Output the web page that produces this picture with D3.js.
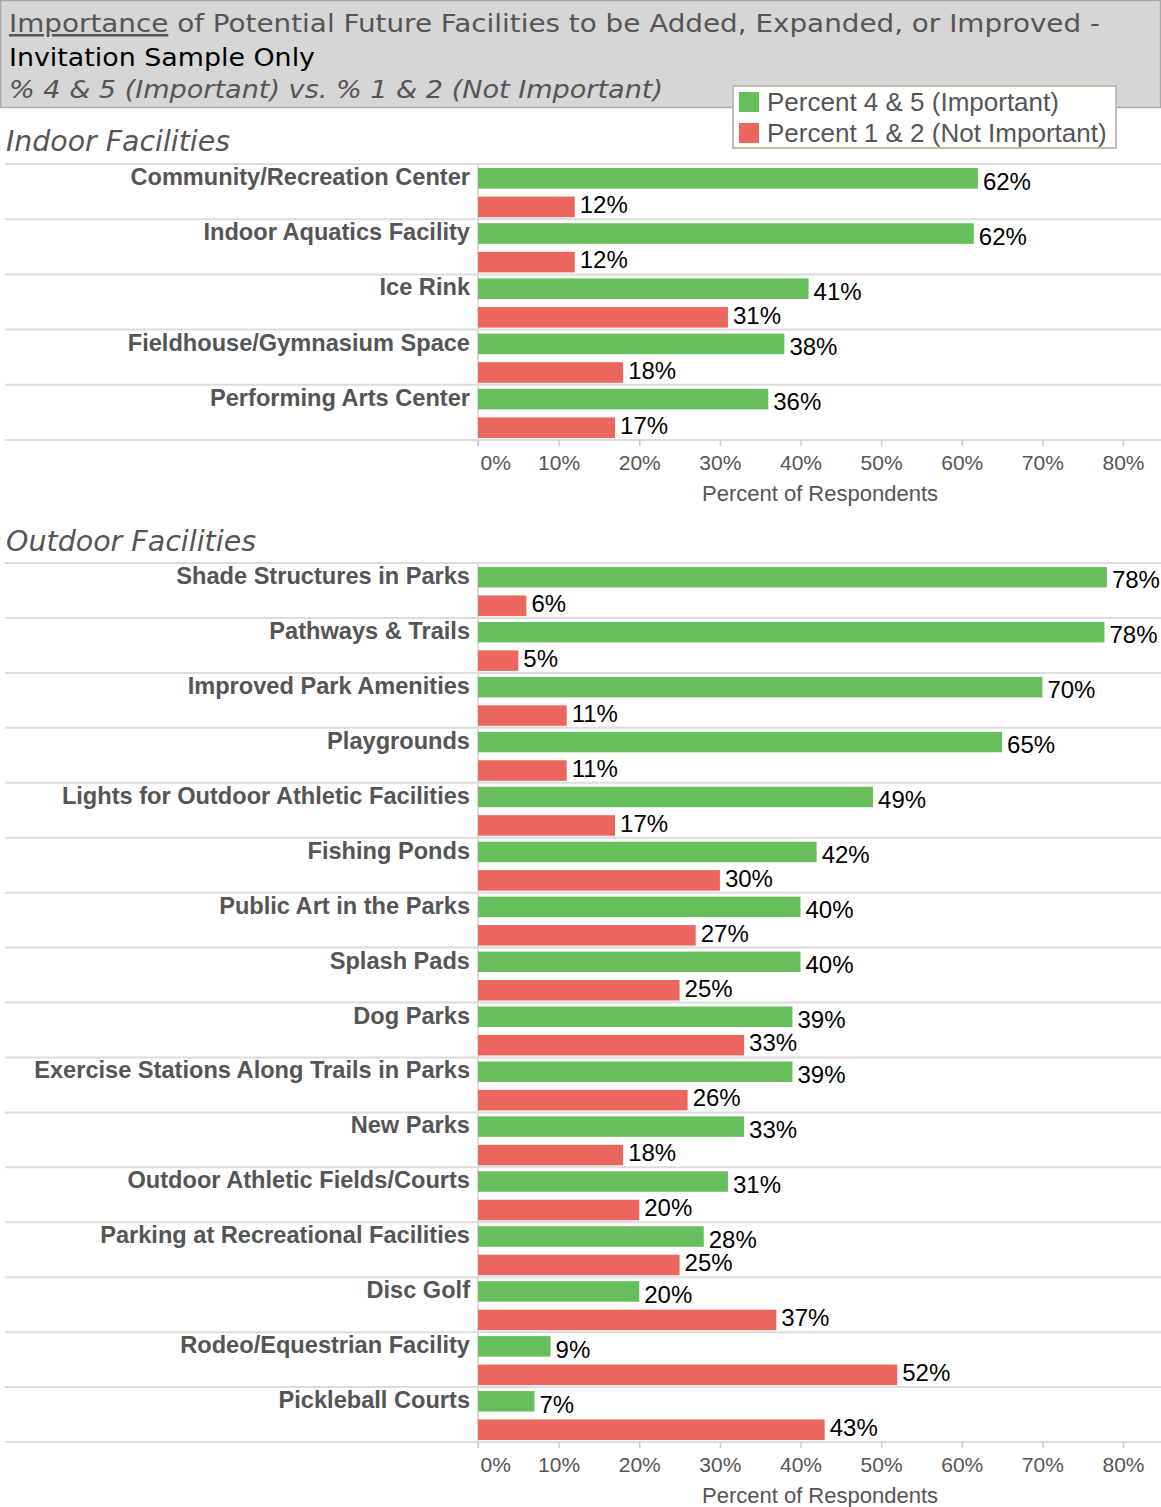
<!DOCTYPE html>
<html>
<head>
<meta charset="utf-8">
<script src="https://cdn.jsdelivr.net/npm/d3@7"></script>
<style>
  body { margin: 0; background: #fff; }
  svg { display: block; }
</style>
</head>
<body>
<div id="chart"></div>
<script>
// ---- data ----
var seriesNames = ["Percent 4 & 5 (Important)", "Percent 1 & 2 (Not Important)"];

var indoorNames = [
    "Community/Recreation Center",
    "Indoor Aquatics Facility",
    "Ice Rink",
    "Fieldhouse/Gymnasium Space",
    "Performing Arts Center"
];
var indoorImportant    = [62, 61.5, 41, 38, 36];
var indoorNotImportant = [12, 12, 31, 18, 17];

var outdoorNames = [
    "Shade Structures in Parks",
    "Pathways & Trails",
    "Improved Park Amenities",
    "Playgrounds",
    "Lights for Outdoor Athletic Facilities",
    "Fishing Ponds",
    "Public Art in the Parks",
    "Splash Pads",
    "Dog Parks",
    "Exercise Stations Along Trails in Parks",
    "New Parks",
    "Outdoor Athletic Fields/Courts",
    "Parking at Recreational Facilities",
    "Disc Golf",
    "Rodeo/Equestrian Facility",
    "Pickleball Courts"
];
var outdoorImportant    = [78, 77.7, 70, 65, 49, 42, 40, 40, 39, 39, 33, 31, 28, 20, 9, 7];
var outdoorNotImportant = [6, 5, 11, 11, 17, 30, 27, 25, 33, 26, 18, 20, 25, 37, 52, 43];

var tickValues = [0, 10, 20, 30, 40, 50, 60, 70, 80];

// ---- layout ----
var canWidth = 1161;
var canHeight = 1507;
var colors = ["#66be5c", "#eb665c"];
var gray = "#555555";
var lineColor = "#dcdcdc";
var labelRight = 470;
var titleFont = "'DejaVu Sans', sans-serif";

var x = d3.scaleLinear()
    .domain([0, 80])
    .range([478, 1123]);

var svg = d3.select("#chart")
    .append("svg")
    .attr("width", canWidth)
    .attr("height", canHeight)
    .style("font-family", "'Liberation Sans', Arial, sans-serif");

// squeeze a text element to a given width
function fit(sel, w) {
    sel.attr("textLength", w).attr("lengthAdjust", "spacingAndGlyphs");
}

// title box
svg.append("rect")
    .attr("x", 0.5)
    .attr("y", 0.5)
    .attr("width", canWidth - 1)
    .attr("height", 107)
    .attr("fill", "#d6d6d6")
    .attr("stroke", "#a8a8a8")
    .attr("stroke-width", 1.5);

var t1 = svg.append("text")
    .attr("x", 9)
    .attr("y", 32)
    .attr("font-family", titleFont)
    .attr("font-size", 25)
    .attr("fill", gray);
t1.append("tspan")
    .attr("text-decoration", "underline")
    .text("Importance");
t1.append("tspan")
    .text(" of Potential Future Facilities to be Added, Expanded, or Improved -");
fit(t1, 1091);

var t2 = svg.append("text")
    .attr("x", 9)
    .attr("y", 66)
    .attr("font-family", titleFont)
    .attr("font-size", 25)
    .attr("fill", "#000")
    .text("Invitation Sample Only");
fit(t2, 306);

var t3 = svg.append("text")
    .attr("x", 9)
    .attr("y", 98)
    .attr("font-family", titleFont)
    .attr("font-size", 25)
    .attr("font-style", "italic")
    .attr("fill", gray)
    .text("% 4 & 5 (Important) vs. % 1 & 2 (Not Important)");
fit(t3, 654);

// legend
var legend = svg.append("g")
    .attr("transform", "translate(733, 86)");

legend.append("rect")
    .attr("width", 383)
    .attr("height", 62)
    .attr("fill", "#fff")
    .attr("stroke", "#bfbdb0")
    .attr("stroke-width", 2);

var legendItem = legend.selectAll(".legend-item")
    .data(seriesNames)
    .enter()
    .append("g")
    .attr("class", "legend-item")
    .attr("transform", function (d, i) {
        return "translate(6, " + (6 + i * 31) + ")";
    });

legendItem.append("rect")
    .attr("width", 20)
    .attr("height", 20)
    .attr("fill", function (d, i) { return colors[i]; });

legendItem.append("text")
    .attr("x", 28)
    .attr("y", 19)
    .attr("font-size", 26)
    .attr("fill", gray)
    .text(function (d) { return d; });

// one panel of paired bars
function drawPanel(names, important, notImportant, header, headerY, headerW, top, bottom) {
    var rows = names.map(function (n, i) {
        return { name: n, values: [important[i], notImportant[i]] };
    });

    var y = d3.scaleBand()
        .domain(names)
        .range([top, bottom])
        .padding(0);

    var ySub = d3.scaleBand()
        .domain([0, 1])
        .range([4, y.bandwidth() - 2])
        .paddingInner(0.28);

    var g = svg.append("g");

    var h = g.append("text")
        .attr("x", 6)
        .attr("y", headerY)
        .attr("font-family", titleFont)
        .attr("font-size", 28)
        .attr("font-style", "italic")
        .attr("fill", gray)
        .text(header);
    fit(h, headerW);

    // row separators
    g.selectAll(".sep")
        .data(d3.range(names.length + 1))
        .enter()
        .append("line")
        .attr("x1", 5)
        .attr("x2", canWidth)
        .attr("y1", function (d) { return top + d * y.step(); })
        .attr("y2", function (d) { return top + d * y.step(); })
        .attr("stroke", lineColor)
        .attr("stroke-width", 2);

    // zero line
    g.append("line")
        .attr("x1", x(0))
        .attr("x2", x(0))
        .attr("y1", top)
        .attr("y2", bottom + 6)
        .attr("stroke", lineColor)
        .attr("stroke-width", 2);

    var row = g.selectAll(".row")
        .data(rows)
        .enter()
        .append("g")
        .attr("class", "row")
        .attr("transform", function (d) {
            return "translate(0, " + y(d.name) + ")";
        });

    row.append("text")
        .attr("x", labelRight)
        .attr("y", 21)
        .attr("text-anchor", "end")
        .attr("font-size", 23.6)
        .attr("font-weight", "bold")
        .attr("fill", gray)
        .text(function (d) { return d.name; });

    var bar = row.selectAll(".bar")
        .data(function (d) { return d.values; })
        .enter()
        .append("g");

    bar.append("rect")
        .attr("x", x(0))
        .attr("y", function (d, i) { return ySub(i); })
        .attr("width", function (d) { return x(d) - x(0); })
        .attr("height", ySub.bandwidth())
        .attr("fill", function (d, i) { return colors[i]; });

    bar.append("text")
        .attr("x", function (d) { return x(d) + 5; })
        .attr("y", function (d, i) {
            return i == 0 ? ySub(i) + ySub.bandwidth() + 1 : ySub(i) + ySub.bandwidth() - 4;
        })
        .attr("font-size", 24)
        .attr("fill", "#000")
        .text(function (d) { return Math.round(d) + "%"; });

    // axis
    var axis = g.append("g")
        .attr("transform", "translate(0, " + bottom + ")")
        .call(d3.axisBottom(x)
            .tickValues(tickValues)
            .tickFormat(function (d) { return d + "%"; })
            .tickSize(6)
            .tickPadding(9));

    axis.select(".domain").remove();
    axis.selectAll(".tick line")
        .attr("stroke", "#cccccc")
        .attr("stroke-width", 1.5);
    axis.selectAll(".tick text")
        .attr("font-family", "'Liberation Sans', Arial, sans-serif")
        .attr("font-size", 21)
        .attr("fill", gray)
        .attr("text-anchor", function (d) { return d == 0 ? "start" : "middle"; })
        .attr("x", function (d) { return d == 0 ? 2 : 0; });

    g.append("text")
        .attr("x", 820)
        .attr("y", bottom + 61)
        .attr("text-anchor", "middle")
        .attr("font-size", 22)
        .attr("fill", gray)
        .text("Percent of Respondents");
}

drawPanel(indoorNames, indoorImportant, indoorNotImportant,
    "Indoor Facilities", 151, 224, 164, 440);
drawPanel(outdoorNames, outdoorImportant, outdoorNotImportant,
    "Outdoor Facilities", 551, 250, 563, 1442);
</script>
</body>
</html>
